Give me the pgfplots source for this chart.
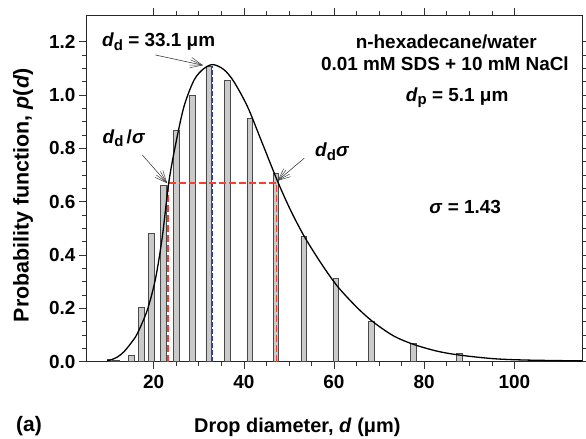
\documentclass[border=0pt]{standalone}
\usepackage{fontspec}
\setmainfont{Liberation Sans}
\usepackage{pgfplots}
\pgfplotsset{compat=1.18}
\usetikzlibrary{calc}
\definecolor{barfill}{HTML}{CACACA}
\definecolor{baredge}{HTML}{4A4A4A}
\definecolor{dblue}{HTML}{2B3A9B}
\definecolor{dred}{HTML}{FF3B30}
\newcommand{\sub}[1]{\raisebox{-0.38ex}{\fontsize{15}{15}\selectfont #1}}
\newcommand{\annfont}{\fontsize{19}{22}\selectfont\bfseries}
\begin{document}
\begin{tikzpicture}
\useasboundingbox (-86bp,-77.3bp) rectangle (500bp,361.7bp);
\begin{axis}[
  at={(0,0)}, anchor=south west,
  width=496bp, height=346.7bp, scale only axis,
  xmin=5, xmax=115, ymin=0, ymax=1.3,
  xtick={20,40,60,80,100}, ytick={0,0.2,0.4,0.6,0.8,1.0,1.2},
  minor x tick num=3, minor y tick num=3,
  tick align=outside, major tick length=7bp, minor tick length=4bp,
  axis line style={black!85, line width=0.8bp},
  tick style={black!80, line width=0.6bp},
  ticklabel style={font=\fontsize{19}{19}\selectfont\bfseries},
  /pgf/number format/assume math mode=true,
  xticklabel style={yshift=-3bp},
  yticklabel style={/pgf/number format/fixed, /pgf/number format/fixed zerofill, /pgf/number format/precision=1},
  xlabel={Drop diameter, \textit{d} (μm)},
  ylabel={Probability function, \textit{p}(\textit{d})},
  xlabel style={font=\fontsize{20}{22}\selectfont\bfseries, at={(axis description cs:0.426,-0.19)}, anchor=center},
  ylabel style={font=\fontsize{21.5}{23}\selectfont\bfseries, at={(axis description cs:-0.127,0.48)}, anchor=center},
  clip=false,
]
% histogram bars
\addplot[ybar, bar width=1.25, fill=barfill, draw=baredge, line width=0.6bp] coordinates {
 (10.3,0.010) (11.7,0.005) (15.1,0.025) (17.3,0.205) (19.5,0.480) (22.2,0.660)
 (25.0,0.867) (28.6,1.000) (32.2,1.108) (36.4,1.054) (41.3,0.913) (47.1,0.708)
 (53.3,0.471) (60.4,0.311) (68.3,0.150) (77.6,0.068) (87.8,0.031)
};
% dashed guide lines
\addplot[dblue, line width=1.2bp, dash pattern=on 5bp off 2bp] coordinates {(33.1,0) (33.1,1.11)};
\addplot[dred, line width=1.4bp, dash pattern=on 7bp off 3bp] coordinates {(23.15,0) (23.15,0.67) (47.3,0.67) (47.3,0)};
% fitted curve
\addplot[black, line width=1.3bp, smooth, tension=0.5] coordinates {
 (9.7,0.004) (10.4,0.006) (12.0,0.018) (13.4,0.037) (15.0,0.070) (16.4,0.106) (18.6,0.194)
 (20.4,0.310) (21.9,0.465) (23.3,0.665) (24.7,0.800) (26.7,0.955) (29.0,1.057)
 (31.2,1.100) (33.2,1.114) (35.6,1.095) (37.8,1.050) (40.8,0.957) (43.8,0.832)
 (47.5,0.676) (50.4,0.567) (53.4,0.470) (57.1,0.370) (60.8,0.282) (65.3,0.200)
 (69.0,0.145) (73.4,0.095) (77.8,0.064) (83.0,0.039) (88.2,0.024) (95.6,0.011)
 (103.0,0.006) (115.0,0.003)
};
\coordinate (a1t) at (axis cs:20.4,1.150);
\coordinate (a1h) at (axis cs:30.8,1.112);
\coordinate (a2t) at (axis cs:17.5,0.775);
\coordinate (a2h) at (axis cs:22.9,0.671);
\coordinate (a3t) at (axis cs:53.4,0.763);
\coordinate (a3h) at (axis cs:47.6,0.680);
\node[font=\annfont] at (axis cs:21.1,1.200) {\textit{d}\sub{d} = 33.1 μm};
\node[font=\annfont] at (axis cs:84.9,1.200) {n-hexadecane/water};
\node[font=\annfont] at (axis cs:84.6,1.119) {0.01 mM SDS + 10 mM NaCl};
\node[font=\annfont] at (axis cs:87.3,0.990) {\textit{d}\sub{p} = 5.1 μm};
\node[font=\annfont] at (axis cs:59.6,0.787) {\textit{d}\sub{d}\textit{σ}};
\node[font=\annfont] at (axis cs:89.1,0.579) {\textit{σ} = 1.43};
\node[font=\annfont] at (axis cs:13.4,0.838) {\textit{d}\sub{d}\,/\textit{σ}};
\end{axis}
\foreach \t/\h in {a1t/a1h, a2t/a2h, a3t/a3h}{
  \draw[black!75, line width=0.6bp] (\t) -- (\h);
  \foreach \ang in {-24,-12,12,24}{
    \draw[black!75, line width=0.5bp] ($(\h)!13bp!\ang:(\t)$) -- (\h);
  }
}
\node[font=\fontsize{21}{23}\selectfont\bfseries] at (-57bp,-64.3bp) {(a)};
\end{tikzpicture}
\end{document}
